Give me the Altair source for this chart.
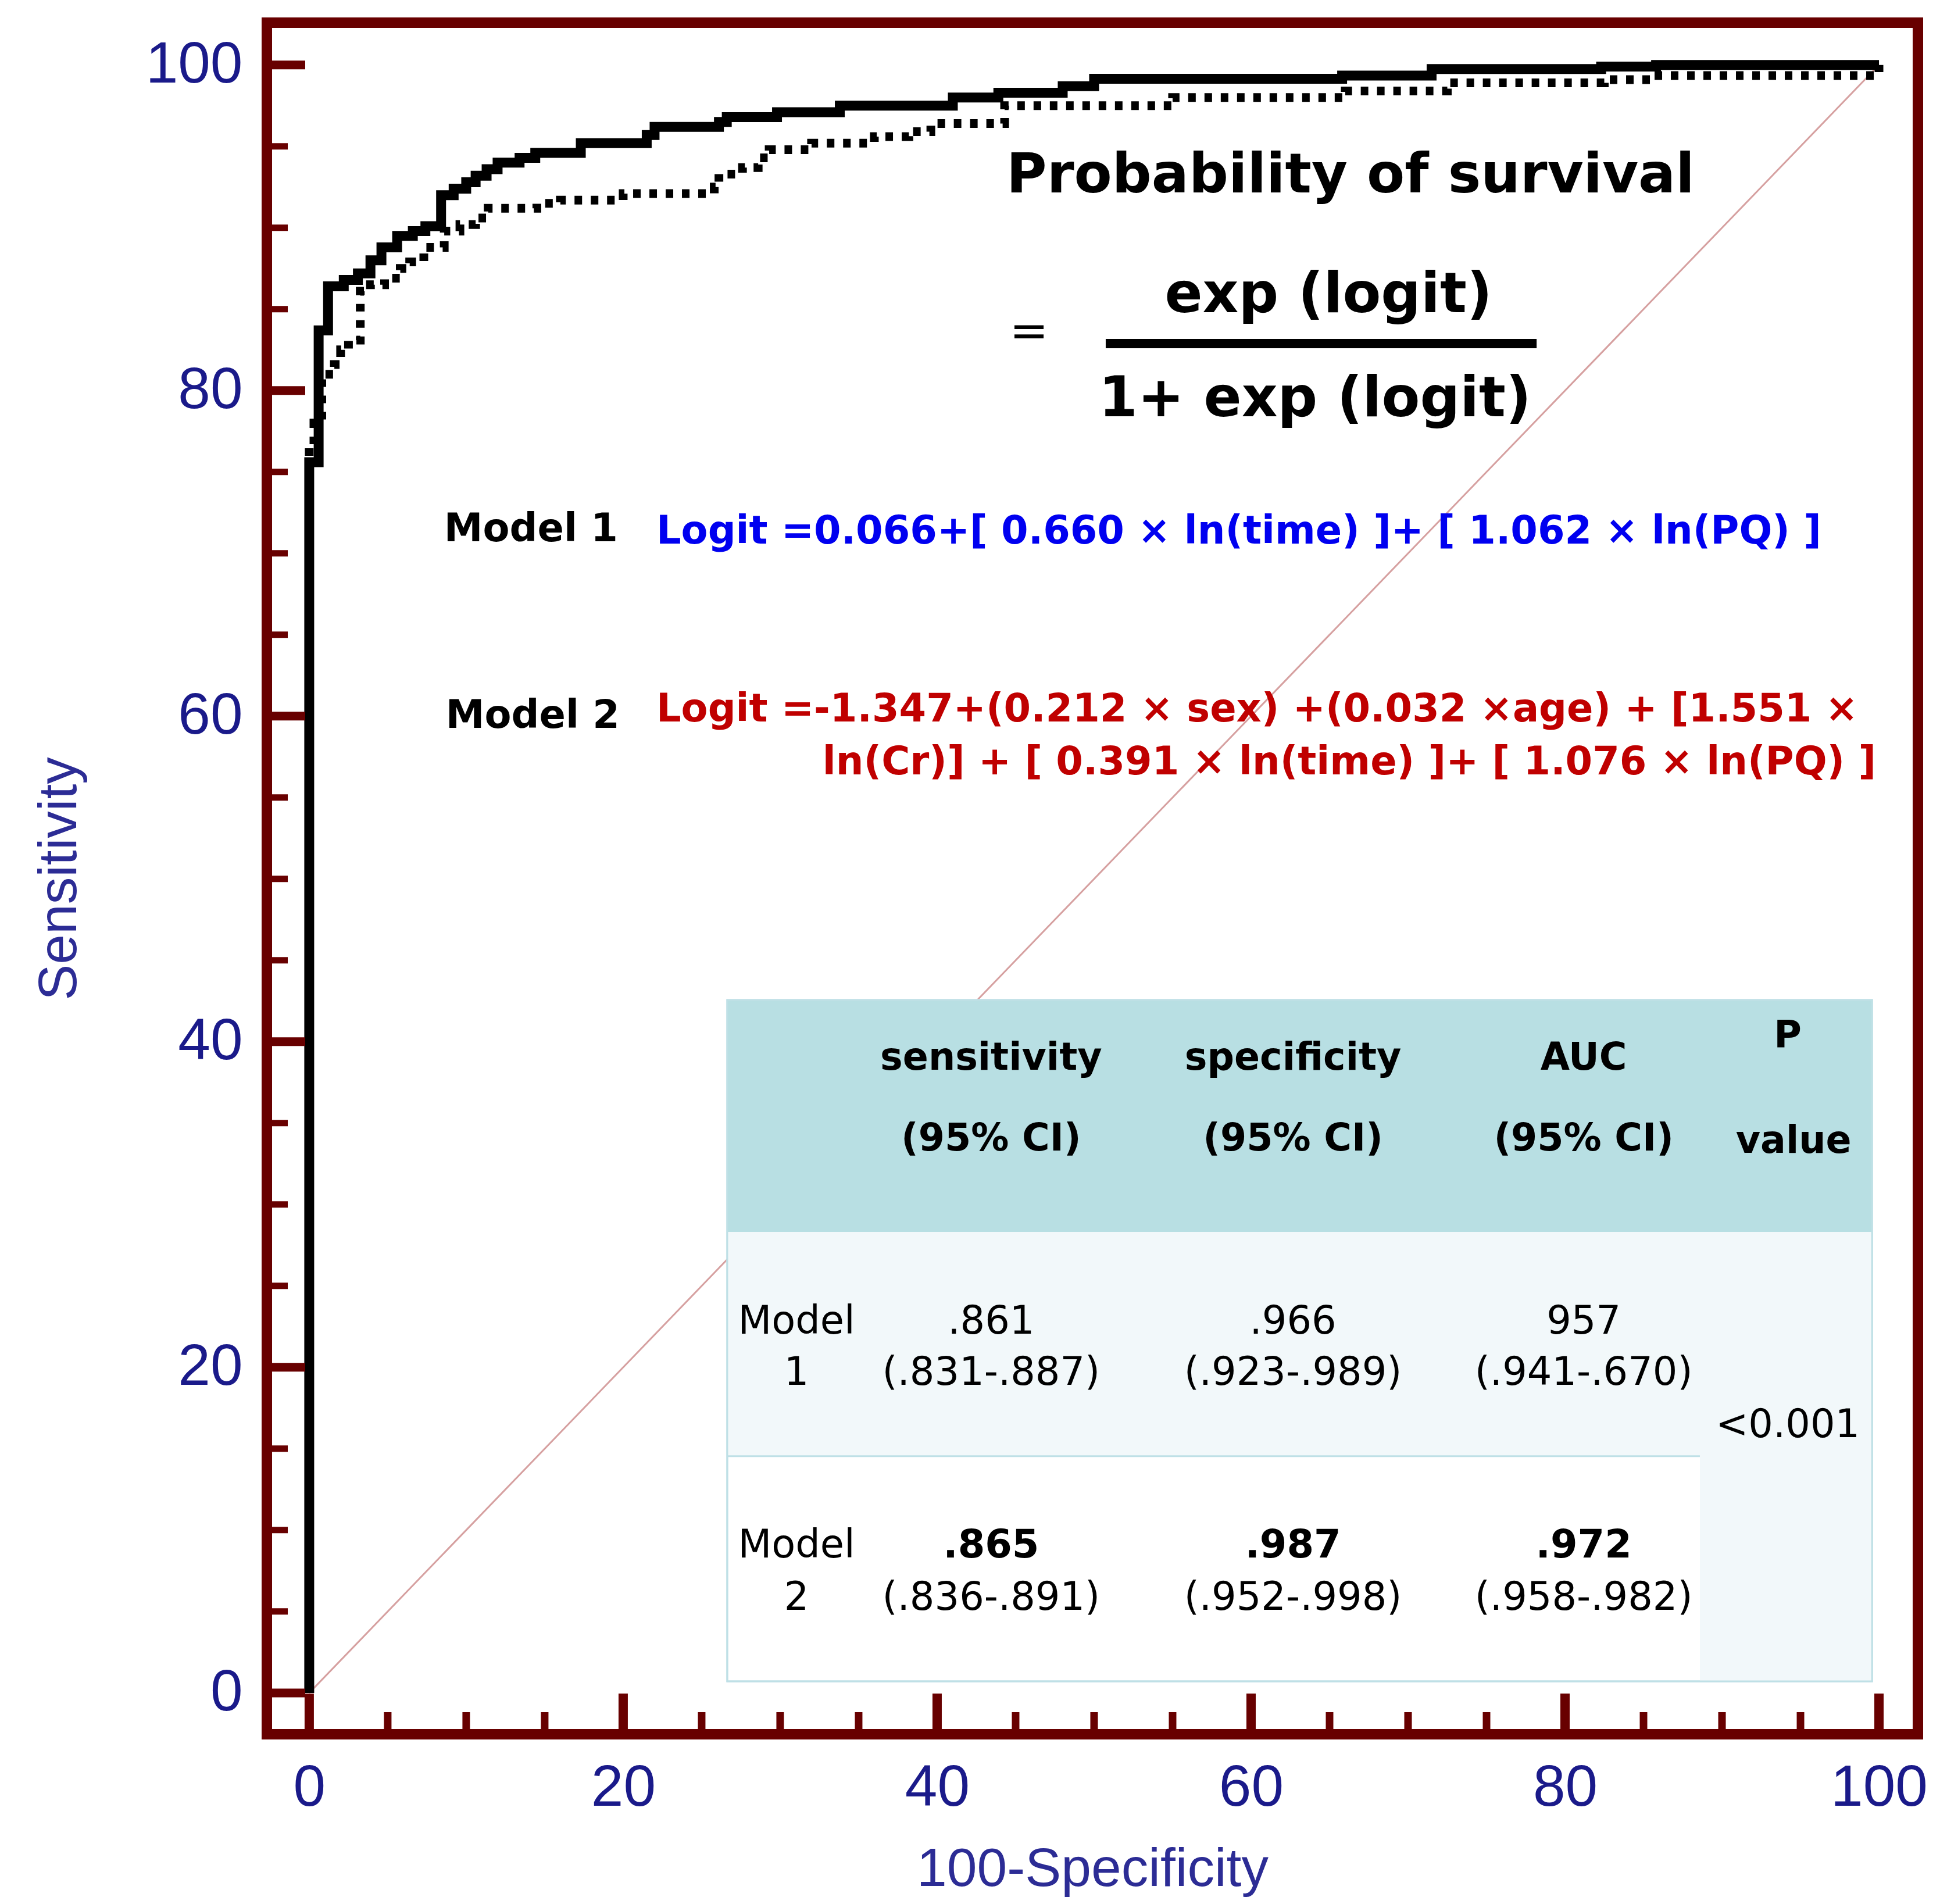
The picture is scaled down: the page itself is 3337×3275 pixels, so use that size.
import altair as alt
import pandas as pd

# ---------------- data ----------------
# Model 1 (dotted) ROC corners: 100-specificity, sensitivity
m1_fpr = [0, 0, 0.3, 0.8, 1.6, 2.0, 2.5, 3.25, 3.9, 4.8, 5.8, 6.4, 7.3, 8.6, 9.6, 10.6, 11.4, 14.5, 16.0, 20.0,
          25.8, 26.1, 27.6, 28.6, 29.3, 32.0, 36.0, 38.2, 39.6, 44.3, 55.0, 66.0, 72.5, 82.5, 85.5, 100]
m1_tpr = [0, 76.5, 78.0, 81.0, 81.6, 82.5, 83.1, 86.1, 86.5, 86.9, 87.5, 87.9, 88.8, 89.8, 90.2, 90.6, 91.2, 91.5, 91.7, 92.1,
          92.5, 93.3, 93.7, 94.3, 94.8, 95.2, 95.6, 95.9, 96.4, 97.5, 98.0, 98.4, 98.9, 99.1, 99.35, 100]
# Model 2 (solid) ROC corners
m2_fpr = [0, 0, 0.6, 1.2, 2.2, 3.1, 3.9, 4.6, 5.6, 6.6, 7.4, 8.4, 9.2, 10.0, 10.6, 11.3, 12.0, 13.4, 14.4, 17.3,
          21.5, 22.0, 26.1, 26.6, 29.8, 33.8, 41.0, 43.9, 48.0, 50.0, 65.8, 71.5, 82.3, 85.8, 100]
m2_tpr = [0, 75.6, 83.7, 86.4, 86.8, 87.2, 88.0, 88.8, 89.5, 89.8, 90.1, 92.0, 92.4, 92.8, 93.2, 93.6, 94.0, 94.3, 94.6, 95.2,
          95.7, 96.2, 96.5, 96.8, 97.1, 97.5, 98.0, 98.3, 98.7, 99.15, 99.35, 99.75, 99.9, 100, 100]
diag_x = [0, 100]
diag_y = [0, 100]

major_ticks = [0, 20, 40, 60, 80, 100]
minor_ticks = [5, 10, 15, 25, 30, 35, 45, 50, 55, 65, 70, 75, 85, 90, 95]

x_title = "100-Specificity"
y_title = "Sensitivity"

title_text = "Probability of survival"
numerator_text = "exp (logit)"
denominator_text = "1+ exp (logit)"
equals_text = "="
model_labels = ["Model 1", "Model 2"]
model1_formula = "Logit =0.066+[ 0.660 \u00d7 ln(time) ]+ [ 1.062 \u00d7 ln(PQ) ]"
model2_formula = ["Logit =-1.347+(0.212 \u00d7 sex) +(0.032 \u00d7age) + [1.551 \u00d7",
                  "ln(Cr)] + [ 0.391 \u00d7 ln(time) ]+ [ 1.076 \u00d7 ln(PQ) ]"]

header_top = ["sensitivity", "specificity", "AUC"]
header_bottom = ["(95% CI)", "(95% CI)", "(95% CI)"]
p_header = ["P", "value"]
m1_vals = [".861", ".966", "957"]
m1_ci = ["(.831-.887)", "(.923-.989)", "(.941-.670)"]
m2_vals = [".865", ".987", ".972"]
m2_ci = ["(.836-.891)", "(.952-.998)", "(.958-.982)"]
row_names = [["Model", "1"], ["Model", "2"]]
p_value = "<0.001"

# ---------------- layout / style ----------------
W, H = 2840, 2944
X_DOM = [-2.70, 102.48]
Y_DOM = [-2.54, 102.6]
FRAME = "#680000"
LABEL_COLOR = "#1a1a8a"
TITLE_COLOR = "#2c2c95"
BLUE = "#0000f0"
RED = "#c00000"
HEAD_FILL = "#b8dfe3"
LIGHT_FILL = "#f2f8fa"
BORDER = "#bfe0e6"
FONT = "DejaVu Sans"

xs = alt.Scale(domain=X_DOM, nice=False, zero=False)
ys = alt.Scale(domain=Y_DOM, nice=False, zero=False)

x_axis = alt.Axis(values=major_ticks, ticks=False, tickSize=0, domain=False, grid=False,
                  labelFont="Liberation Sans", labelFontSize=100, labelColor=LABEL_COLOR,
                  labelPadding=43, labelFlush=False, labelOverlap=False,
                  title=x_title, titleFont="Liberation Sans", titleFontSize=93,
                  titleFontWeight="normal", titleColor=TITLE_COLOR,
                  titleBaseline="alphabetic", titleY=260, titleX=W / 2)
y_axis = alt.Axis(values=major_ticks, ticks=False, tickSize=0, domain=False, grid=False,
                  labelFont="Liberation Sans", labelFontSize=100, labelColor=LABEL_COLOR,
                  labelPadding=42, labelFlush=False, labelOverlap=False,
                  title=y_title, titleFont="Liberation Sans", titleFontSize=93,
                  titleFontWeight="normal", titleColor=TITLE_COLOR, titleAngle=270,
                  titleBaseline="alphabetic", titleX=-329, titleY=H / 2)


def X(field="x"):
    return alt.X(f"{field}:Q", scale=xs, axis=None)


def Y(field="y"):
    return alt.Y(f"{field}:Q", scale=ys, axis=None)


# diagonal (carries the axes)
diag = alt.Chart(pd.DataFrame({"x": diag_x, "y": diag_y})).mark_line(
    color="#d6a0a0", strokeWidth=3
).encode(x=alt.X("x:Q", scale=xs, axis=x_axis), y=alt.Y("y:Q", scale=ys, axis=y_axis))

# table geometry in data units
TL, TR, TP = 26.63, 99.56, 88.59
T_TOP, T_HEAD, T_ROW1, T_BOT = 42.57, 28.32, 14.54, 0.71
COLS = [43.44, 62.67, 81.19]
MODEL_X = 31.04
P_X = 94.19

rects = pd.DataFrame({
    "x": [TL, TL, TP],
    "x2": [TR, TR, TR],
    "y": [T_HEAD, T_ROW1, T_BOT],
    "y2": [T_TOP, T_HEAD, T_ROW1],
    "fill": [HEAD_FILL, LIGHT_FILL, LIGHT_FILL],
})
white_box = alt.Chart(pd.DataFrame({"x": [TL], "x2": [TR], "y": [T_BOT], "y2": [T_TOP]})).mark_rect(
    fill="white", stroke=BORDER, strokeWidth=3
).encode(x=X(), x2="x2:Q", y=Y(), y2="y2:Q")
fills = alt.Chart(rects).mark_rect().encode(
    x=X(), x2="x2:Q", y=Y(), y2="y2:Q", fill=alt.Fill("fill:N", scale=None)
)
sep = alt.Chart(pd.DataFrame({"x": [TL], "x2": [TP], "y": [T_ROW1]})).mark_rule(
    color=BORDER, strokeWidth=3
).encode(x=X(), x2="x2:Q", y=Y())
outline = alt.Chart(pd.DataFrame({"x": [TL], "x2": [TR], "y": [T_BOT], "y2": [T_TOP]})).mark_rect(
    fillOpacity=0, stroke=BORDER, strokeWidth=3
).encode(x=X(), x2="x2:Q", y=Y(), y2="y2:Q")


def text_layer(rows, size, weight, color, align="center", baseline="alphabetic", font=FONT):
    df = pd.DataFrame(rows, columns=["x", "y", "t"])
    return alt.Chart(df).mark_text(
        font=font, fontSize=size, fontWeight=weight, color=color, align=align, baseline=baseline
    ).encode(x=X(), y=Y(), text="t:N")


head_rows = []
for cx, a, b in zip(COLS, header_top, header_bottom):
    head_rows.append((cx, 38.29, a))
    head_rows.append((cx, 33.32, b))
head_rows.append((P_X, 39.64, p_header[0]))
head_rows.append((P_X + 0.37, 33.18, p_header[1]))

body_rows = [(MODEL_X, 22.07, row_names[0][0]), (MODEL_X, 18.93, row_names[0][1]),
             (MODEL_X, 8.32, row_names[1][0]), (MODEL_X, 5.11, row_names[1][1]),
             (P_X, 15.71, p_value)]
for cx, v, c in zip(COLS, m1_vals, m1_ci):
    body_rows.append((cx, 22.07, v))
    body_rows.append((cx, 18.93, c))
for cx, c in zip(COLS, m2_ci):
    body_rows.append((cx, 5.11, c))
bold_rows = [(cx, 8.32, v) for cx, v in zip(COLS, m2_vals)]

t_head = text_layer(head_rows, 65, "bold", "black")
t_body = text_layer(body_rows, 67, "normal", "black")
t_bold = text_layer(bold_rows, 67, "bold", "black")

# formula annotations
t_title = text_layer([(66.33, 92.18, title_text)], 95, "bold", "black")
t_frac = text_layer([(64.93, 84.82, numerator_text), (64.07, 78.43, denominator_text)], 96, "bold", "black")
t_eq = text_layer([(45.85, 83.57, equals_text)], 80, "normal", "black", baseline="middle")
frac_line = alt.Chart(pd.DataFrame({"x": [50.74], "x2": [78.19], "y": [82.89]})).mark_rule(
    color="black", strokeWidth=16
).encode(x=X(), x2="x2:Q", y=Y())
t_models = text_layer([(8.59, 70.75, model_labels[0]), (8.70, 59.29, model_labels[1])], 67, "bold", "black", align="left")
t_blue = text_layer([(22.11, 70.61, model1_formula)], 67, "bold", BLUE, align="left")
t_red = text_layer([(22.11, 59.68, model2_formula[0]), (32.70, 56.43, model2_formula[1])], 67, "bold", RED, align="left")

# ROC curves
df1 = pd.DataFrame({"x": m1_fpr, "y": m1_tpr, "i": list(range(len(m1_fpr)))})
df2 = pd.DataFrame({"x": m2_fpr, "y": m2_tpr, "i": list(range(len(m2_fpr)))})
curve1 = alt.Chart(df1).mark_line(
    interpolate="step-after", color="black", strokeWidth=15, strokeDash=[13, 15], strokeCap="butt"
).encode(x=X(), y=Y(), order="i:Q")
curve2 = alt.Chart(df2).mark_line(
    interpolate="step-after", color="black", strokeWidth=17
).encode(x=X(), y=Y(), order="i:Q")

# inward ticks
tk_major = pd.DataFrame({"v": major_ticks})
tk_minor = pd.DataFrame({"v": minor_ticks})
y_major = alt.Chart(tk_major).mark_rule(color=FRAME, strokeWidth=15).encode(
    y=Y("v"), x=alt.value(0), x2=alt.value(66))
y_minor = alt.Chart(tk_minor).mark_rule(color=FRAME, strokeWidth=11).encode(
    y=Y("v"), x=alt.value(0), x2=alt.value(36))
x_major = alt.Chart(tk_major).mark_rule(color=FRAME, strokeWidth=16).encode(
    x=X("v"), y=alt.value(H), y2=alt.value(H - 70))
x_minor = alt.Chart(tk_minor).mark_rule(color=FRAME, strokeWidth=13).encode(
    x=X("v"), y=alt.value(H), y2=alt.value(H - 38))

chart = alt.layer(
    diag, white_box, fills, sep, outline,
    t_head, t_body, t_bold,
    t_title, t_frac, t_eq, frac_line, t_models, t_blue, t_red,
    curve1, curve2,
    y_major, y_minor, x_major, x_minor,
).resolve_axis(
    x="independent", y="independent"
).properties(
    width=W, height=H,
    padding={"left": 451, "top": 31, "right": 30, "bottom": 284},
    autosize=alt.AutoSizeParams(type="none"),
    background="white",
).configure_view(stroke=FRAME, strokeWidth=18)

chart.save("out.html", embed_options={"renderer": "svg", "actions": False})
